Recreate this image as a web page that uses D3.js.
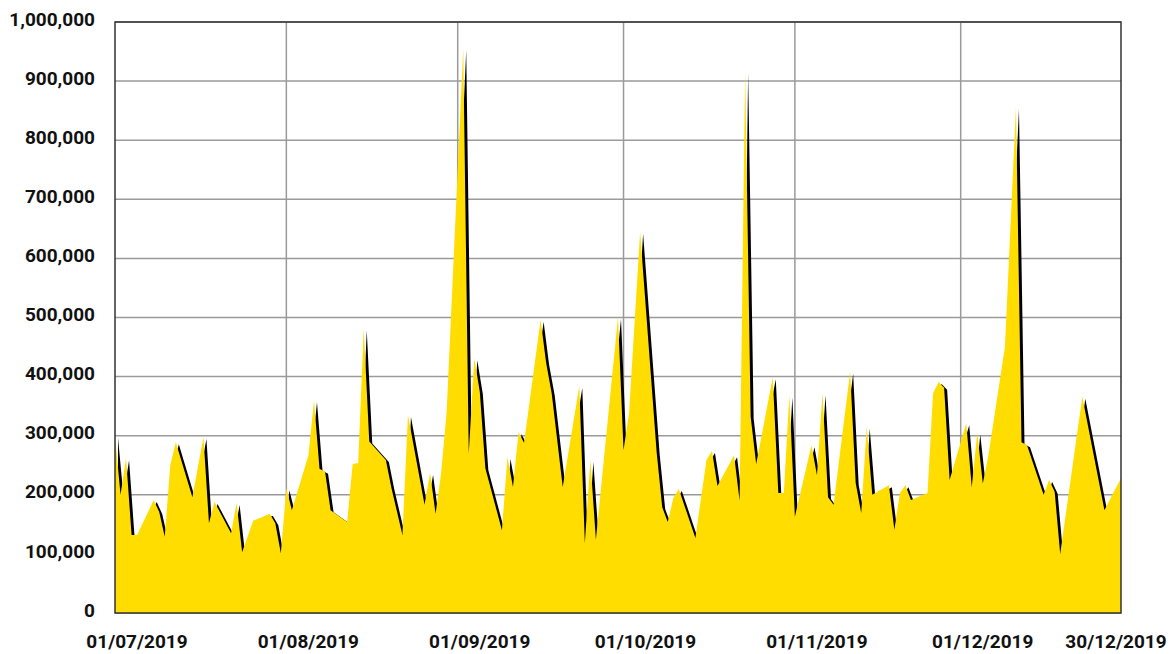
<!DOCTYPE html>
<html>
<head>
<meta charset="utf-8">
<script src="https://cdn.jsdelivr.net/npm/d3@7"></script>
<style>
  body { margin: 0; background: #fff; }
  svg text { font-family: Roboto, "DejaVu Sans", sans-serif; font-weight: 700; fill: #111; }
</style>
</head>
<body>
<div id="chart"></div>
<script>
// business days with a visible vertex in the series
const dates = [
  '2019-07-01','2019-07-02','2019-07-03','2019-07-04','2019-07-05',
  '2019-07-08','2019-07-09','2019-07-10','2019-07-11','2019-07-12',
  '2019-07-15','2019-07-17','2019-07-18','2019-07-19',
  '2019-07-22','2019-07-23','2019-07-24','2019-07-26',
  '2019-07-29','2019-07-30','2019-07-31','2019-08-01','2019-08-02',
  '2019-08-05','2019-08-06','2019-08-07','2019-08-08','2019-08-09',
  '2019-08-12','2019-08-13','2019-08-14','2019-08-15','2019-08-16',
  '2019-08-19','2019-08-20','2019-08-22','2019-08-23',
  '2019-08-26','2019-08-27','2019-08-28','2019-08-29','2019-08-30',
  '2019-09-02','2019-09-03','2019-09-04','2019-09-05','2019-09-06',
  '2019-09-09','2019-09-10','2019-09-11','2019-09-12','2019-09-13',
  '2019-09-16','2019-09-17','2019-09-18','2019-09-20',
  '2019-09-23','2019-09-24','2019-09-25','2019-09-26',
  '2019-09-30','2019-10-01','2019-10-02','2019-10-04',
  '2019-10-07','2019-10-08','2019-10-09','2019-10-10','2019-10-11',
  '2019-10-14','2019-10-16','2019-10-17','2019-10-18',
  '2019-10-21','2019-10-22','2019-10-23','2019-10-24','2019-10-25',
  '2019-10-28','2019-10-29','2019-10-30','2019-10-31','2019-11-01',
  '2019-11-04','2019-11-05','2019-11-06','2019-11-07','2019-11-08',
  '2019-11-11','2019-11-12','2019-11-13','2019-11-14','2019-11-15',
  '2019-11-18','2019-11-19','2019-11-20','2019-11-21','2019-11-22',
  '2019-11-25','2019-11-26','2019-11-27','2019-11-28','2019-11-29',
  '2019-12-02','2019-12-03','2019-12-04','2019-12-05','2019-12-06',
  '2019-12-09','2019-12-11','2019-12-12','2019-12-13',
  '2019-12-16','2019-12-17','2019-12-18','2019-12-19',
  '2019-12-23','2019-12-27','2019-12-30'
];

const values = [
  300000, 200000, 262000, 132000, 132000,
  191000, 171000, 129000, 250000, 289000,
  196000, 298000, 152000, 188000,
  135000, 186000, 103000, 156000,
  168000, 152000, 101000, 211000, 174000,
  267000, 360000, 244000, 239000, 174000,
  154000, 252000, 254000, 482000, 290000,
  259000, 212000, 132000, 335000,
  183000, 237000, 168000, 237000, 340000,
  955000, 270000, 431000, 374000, 245000,
  140000, 264000, 213000, 306000, 288000,
  496000, 423000, 372000, 213000,
  384000, 118000, 259000, 124000,
  501000, 276000, 338000, 645000,
  271000, 179000, 154000, 194000, 210000,
  127000, 259000, 274000, 215000,
  267000, 190000, 917000, 332000, 252000,
  399000, 203000, 203000, 368000, 163000,
  284000, 233000, 372000, 196000, 183000,
  408000, 220000, 169000, 315000, 200000,
  216000, 141000, 203000, 216000, 191000,
  203000, 372000, 391000, 381000, 225000,
  321000, 213000, 305000, 219000, 266000,
  450000, 856000, 289000, 284000,
  200000, 225000, 205000, 100000,
  366000, 174000, 228000
];

const xTickDates = ['2019-07-01','2019-08-01','2019-09-01','2019-10-01','2019-11-01','2019-12-01','2019-12-30'];
const xTickLabels = ['01/07/2019','01/08/2019','01/09/2019','01/10/2019','01/11/2019','01/12/2019','30/12/2019'];
const yTicks = [0, 100000, 200000, 300000, 400000, 500000, 600000, 700000, 800000, 900000, 1000000];

const width = 1174, height = 654;
const margin = { top: 22, right: 53, bottom: 41, left: 115 };
const innerW = width - margin.left - margin.right;
const innerH = height - margin.top - margin.bottom;

const parse = d3.utcParse('%Y-%m-%d');
const data = dates.map((d, i) => ({ date: parse(d), value: values[i] }));

const x = d3.scaleUtc()
  .domain([parse('2019-07-01'), parse('2019-12-30')])
  .range([0, innerW]);
const y = d3.scaleLinear()
  .domain([0, 1000000])
  .range([innerH, 0]);

const svg = d3.select('#chart')
  .append('svg')
  .attr('width', width)
  .attr('height', height);

const g = svg.append('g')
  .attr('transform', `translate(${margin.left},${margin.top})`);

svg.append('defs').append('clipPath')
  .attr('id', 'plot-clip')
  .append('rect')
  .attr('width', innerW)
  .attr('height', innerH);

// grid
g.append('g')
  .selectAll('line')
  .data(yTicks)
  .enter()
  .append('line')
  .attr('x1', 0)
  .attr('x2', innerW)
  .attr('y1', d => y(d))
  .attr('y2', d => y(d))
  .style('stroke', '#9a9a9a')
  .style('stroke-width', 1.5);

g.append('g')
  .selectAll('line')
  .data(xTickDates.slice(1, -1))
  .enter()
  .append('line')
  .attr('x1', d => x(parse(d)))
  .attr('x2', d => x(parse(d)))
  .attr('y1', 0)
  .attr('y2', innerH)
  .style('stroke', '#9a9a9a')
  .style('stroke-width', 1.5);

const area = d3.area()
  .x(d => x(d.date))
  .y0(innerH)
  .y1(d => y(d.value));

const plot = g.append('g').attr('clip-path', 'url(#plot-clip)');

// black drop shadow behind the yellow area
plot.append('path')
  .datum(data)
  .attr('d', area)
  .attr('transform', 'translate(3,2)')
  .style('fill', '#000');

plot.append('path')
  .datum(data)
  .attr('d', area)
  .style('fill', '#ffdd00');

// frame
g.append('rect')
  .attr('width', innerW)
  .attr('height', innerH)
  .style('fill', 'none')
  .style('stroke', '#333')
  .style('stroke-width', 1.5);

// y labels
g.append('g')
  .selectAll('text')
  .data(yTicks)
  .enter()
  .append('text')
  .attr('x', -20)
  .attr('y', d => y(d) - 3)
  .attr('dy', '0.35em')
  .attr('text-anchor', 'end')
  .style('font-size', '19px')
  .text(d => d3.format(',')(d));

// x labels
g.append('g')
  .selectAll('text')
  .data(xTickDates)
  .enter()
  .append('text')
  .attr('x', d => Math.min(x(parse(d)) + 22, width - margin.left - 58))
  .attr('y', innerH + 28)
  .attr('dy', '0.35em')
  .attr('text-anchor', 'middle')
  .style('font-size', '19px')
  .text((d, i) => xTickLabels[i]);
</script>
</body>
</html>
